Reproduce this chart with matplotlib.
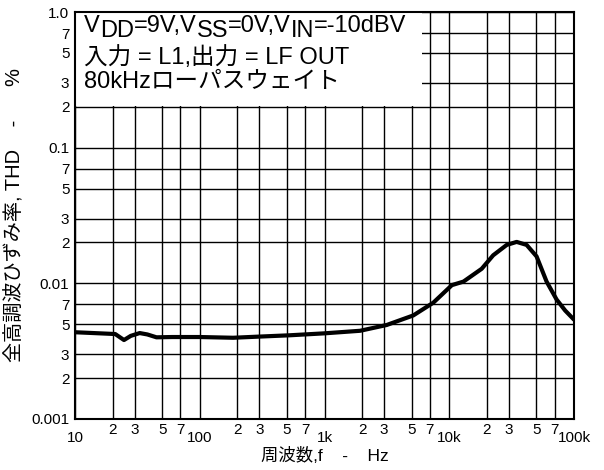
import matplotlib
matplotlib.use('Agg')
from matplotlib import pyplot as plt
from matplotlib.patches import Rectangle
import numpy as np

plt.rcParams['font.family'] = ['Liberation Sans', 'Noto Sans CJK JP', 'DejaVu Sans']

# THD vs frequency
freq = [10, 21, 24.7, 28, 33, 38, 45, 60, 100, 185, 300, 525, 1000, 1930,
        3150, 5150, 7450, 10500, 13000, 18200, 22500, 28900, 34700, 41700,
        50100, 60300, 72500, 85000, 100000]
thd = [0.00436, 0.00423, 0.00382, 0.0041, 0.0043, 0.0042, 0.0040, 0.00402,
       0.00402, 0.00397, 0.00405, 0.00414, 0.00428, 0.00447, 0.00493, 0.0058,
       0.0072, 0.0097, 0.0103, 0.0128, 0.0161, 0.0192, 0.0202, 0.0192,
       0.0158, 0.0103, 0.0076, 0.0063, 0.0054]

x_major = [10, 100, 1000, 10000, 100000]
x_major_labels = ['10', '100', '1k', '10k', '100k']
y_major = [0.001, 0.01, 0.1, 1.0]
y_major_labels = ['0.001', '0.01', '0.1', '1.0']
sub = [2, 3, 5, 7]

fig = plt.figure(figsize=(6.04, 4.70), dpi=100)
ax = fig.add_axes([75 / 604, 51 / 470, 499 / 604, 407 / 470])

ax.set_xscale('log')
ax.set_yscale('log')
ax.set_xlim(10, 100000)
ax.set_ylim(0.001, 1.0)

x_minor = [m * d for d in x_major[:-1] for m in sub]
y_minor = [m * d for d in y_major[:-1] for m in sub]

ax.set_xticks(x_major)
ax.set_xticklabels(x_major_labels)
ax.set_xticks(x_minor, minor=True)
ax.set_xticklabels([str(m) for d in x_major[:-1] for m in sub], minor=True)
ax.set_yticks(y_major)
ax.set_yticklabels(y_major_labels)
ax.set_yticks(y_minor, minor=True)
ax.set_yticklabels([str(m) for d in y_major[:-1] for m in sub], minor=True)

ax.tick_params(axis='both', which='both', length=0, labelsize=11)
ax.tick_params(axis='x', which='major', pad=9)
ax.tick_params(axis='x', which='minor', pad=3)
ax.tick_params(axis='y', which='both', pad=4)

ax.set_axisbelow(True)
ax.grid(True, which='both', color='k', lw=1.0)
for s in ax.spines.values():
    s.set_linewidth(1.5)

ax.plot(freq, thd, color='k', lw=3, solid_capstyle='round', zorder=3)

ax.add_patch(Rectangle((0, (419 - 106) / 407), (422 - 75) / 499, 1 - (419 - 106) / 407,
                       transform=ax.transAxes, facecolor='white', edgecolor='none', zorder=1))

ax.set_xlabel('周波数,f    -    Hz', fontsize=12.5, labelpad=1)
ax.set_ylabel('全高調波ひずみ率, THD    -      %', fontsize=14.5, labelpad=5)

# annotation lines, subscripts drawn same size but lowered
fs = 17
renderer = fig.canvas.get_renderer()


def chunk_line(x, y, parts):
    for txt, dy in parts:
        t = fig.text(x, y - dy / 470, txt, fontsize=fs, va='baseline', ha='left')
        bb = t.get_window_extent(renderer)
        x += bb.width / fig.bbox.width


chunk_line(84 / 604, 1 - 32 / 470,
           [('V', 0), ('DD', 5), ('=9V,V', 0), ('SS', 5), ('=0V,V', 0), ('IN', 5), ('=-10dBV', 0)])
fig.text(84 / 604, 1 - 64 / 470, '入力 = L1,出力 = LF OUT', fontsize=fs, va='baseline')
fig.text(84 / 604, 1 - 88 / 470, '80kHzローパスウェイト', fontsize=fs, va='baseline')

fig.savefig('out.png', dpi=100)
